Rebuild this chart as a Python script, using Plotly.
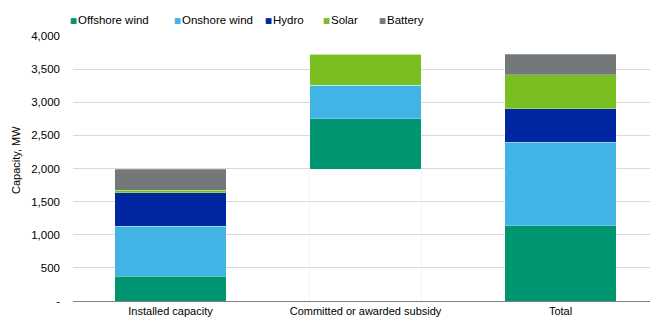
import plotly.graph_objects as go

categories = ["Installed capacity", "Committed or awarded subsidy", "Total"]
base = [0, 1985, 0]
offshore = [370, 765, 1135]
onshore = [760, 505, 1265]
hydro = [505, 0, 505]
solar = [40, 470, 510]
battery = [310, 0, 310]

series = [
    ("Offshore wind", offshore, "#009672"),
    ("Onshore wind", onshore, "#41b4e5"),
    ("Hydro", hydro, "#0026a0"),
    ("Solar", solar, "#79bf22"),
    ("Battery", battery, "#75787b"),
]
legend_px = [70, 174, 265, 323, 379]

L, T, B, W, H = 73, 36, 19, 650, 320
pw = W - L
ph = H - T - B

fig = go.Figure()
fig.add_trace(go.Bar(x=categories, y=base, marker=dict(color="rgba(0,0,0,0)"),
                     showlegend=False, hoverinfo="skip"))
for name, vals, col in series:
    fig.add_trace(go.Bar(x=categories, y=vals, name=name, showlegend=False,
                         marker=dict(color=col, line=dict(color="rgba(255,255,255,0.5)", width=0.5))))

font = "Arial, Liberation Sans, sans-serif"
annotations = [dict(text="Capacity, MW", xref="paper", yref="paper",
                    x=-(L - 16) / pw, y=(H - B - 160) / ph, textangle=-90,
                    showarrow=False, xanchor="center", yanchor="middle",
                    font=dict(size=11))]
ly = (H - B - 20) / ph
my = (H - B - 20.5) / ph
for (name, vals, col), px in zip(series, legend_px):
    annotations.append(dict(text="■", xref="paper", yref="paper", x=(px - 2 - L) / pw, y=my,
                            showarrow=False, xanchor="left", yanchor="middle",
                            font=dict(family="DejaVu Sans", size=7.5, color=col)))
    annotations.append(dict(text=name, xref="paper", yref="paper", x=(px + 6 - L) / pw, y=ly,
                            showarrow=False, xanchor="left", yanchor="middle",
                            font=dict(size=11.5, color="#000000")))

fig.update_layout(
    barmode="stack",
    bargap=0.43,
    width=W, height=H,
    margin=dict(l=L, r=0, t=T, b=B),
    paper_bgcolor="white", plot_bgcolor="white",
    font=dict(family=font, size=11, color="#000000"),
    showlegend=False,
    xaxis=dict(range=[-0.5, 2.459], showgrid=False, showline=True, linecolor="#808080",
               linewidth=1, ticks="", automargin=False, tickfont=dict(size=11)),
    yaxis=dict(range=[0, 4000], tickvals=[0, 500, 1000, 1500, 2000, 2500, 3000, 3500, 4000],
               ticktext=["-", "500", "1,000", "1,500", "2,000", "2,500", "3,000", "3,500", "4,000"],
               showgrid=True, gridcolor="#d9d9d9", gridwidth=1, zeroline=False,
               showline=False, ticks="", ticklabelstandoff=12, automargin=False,
               tickfont=dict(size=11.5)),
    annotations=annotations,
)

fig.write_html("out.html")
